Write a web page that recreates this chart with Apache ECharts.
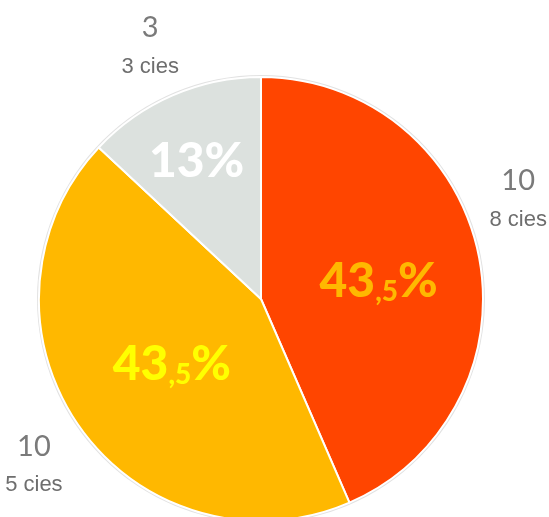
<!DOCTYPE html>
<html>
<head>
<meta charset="utf-8">
<script src="https://cdn.jsdelivr.net/npm/echarts@6/dist/echarts.min.js"></script>
<style>
html,body{margin:0;padding:0;background:#fff;}
#c{width:549px;height:517px;}
</style>
</head>
<body>
<div id="c"></div>
<script>
var categories = ['8 cies', '5 cies', '3 cies'];
var values = [10, 10, 3];
var sliceColors = ['#FF4500', '#FFB800', '#DCE1DE'];
var pctColors = ['#FFB800', '#FFFF00', '#FFFFFF'];

var chart = echarts.init(document.getElementById('c'));
var center = [261, 299];
var R = 222;

function pctFormat(p) {
  var v = Math.round(p.percent * 10) / 10;
  var s = v.toFixed(1).split('.');
  if (s[1] === '0') return '{big|' + s[0] + '}{big|%}';
  return '{big|' + s[0] + '}{small|,' + s[1] + '}{big|%}';
}

var mainData = values.map(function (v, i) {
  return {
    value: v,
    name: categories[i],
    itemStyle: { color: sliceColors[i] },
    label: { color: pctColors[i] }
  };
});
var outerData = values.map(function (v, i) {
  return { value: v, name: categories[i] };
});

chart.setOption({
  animation: false,
  series: [
    {
      type: 'pie', silent: true, center: center, radius: R + 2,
      data: [{ value: 1, itemStyle: { color: '#E2E2E2' } }],
      label: { show: false }, labelLine: { show: false }, z: 1
    },
    {
      type: 'pie', silent: true, center: center, radius: R,
      startAngle: 90, clockwise: true,
      data: mainData, z: 2,
      itemStyle: { borderColor: '#ffffff', borderWidth: 2 },
      label: {
        show: true, position: 'inside', formatter: pctFormat,
        rich: {
          big: { fontSize: 48, fontWeight: 900, fontFamily: 'Lato', lineHeight: 48, verticalAlign: 'bottom' },
          small: { fontSize: 28, fontWeight: 900, fontFamily: 'Lato', lineHeight: 32, verticalAlign: 'bottom' }
        }
      },
      labelLine: { show: false },
      labelLayout: function (p) {
        if (p.dataIndex === 0) return { dx: 6, dy: 6 };
        if (p.dataIndex === 1) return { dx: 4 };
        return { dx: -19, dy: -33 };
      }
    },
    {
      type: 'pie', silent: true, center: center, radius: [250, 300],
      startAngle: 90, clockwise: true,
      data: outerData, z: 3,
      itemStyle: { color: 'rgba(0,0,0,0)' },
      label: {
        show: true, position: 'inside',
        formatter: function (p) { return '{a|' + p.value + '}\n{b|' + p.name + '}'; },
        rich: {
          a: { fontSize: 29, fontFamily: 'Lato', color: '#7A7A7A', lineHeight: 40, align: 'center' },
          b: { fontSize: 22, fontFamily: 'Liberation Sans', color: '#6E6E6E', lineHeight: 38, align: 'center' }
        }
      },
      labelLine: { show: false },
      labelLayout: function (p) {
        if (p.dataIndex === 0) return { dx: -15, dy: -43 };
        if (p.dataIndex === 1) return { dy: 6 };
        return { dy: 3 };
      }
    }
  ]
});
</script>
</body>
</html>
